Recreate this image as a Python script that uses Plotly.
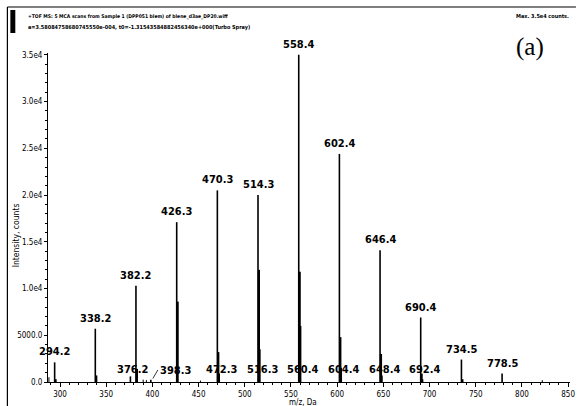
import plotly.graph_objects as go

# Principal ion series (m/z, counts)
peak_mz = [294.2, 338.2, 382.2, 426.3, 470.3, 514.3, 558.4, 602.4, 646.4, 690.4, 734.5, 778.5]
peak_int = [2100, 5700, 10300, 17100, 20500, 20000, 35000, 24400, 14100, 6900, 2400, 900]

# First isotope peaks sitting next to the principal ions
iso_mz = [295.2, 339.2, 383.2, 427.3, 471.3, 515.3, 559.4, 603.4, 647.4, 691.4, 735.5]
iso_int = [300, 700, 1400, 8600, 3200, 12000, 11800, 4800, 3000, 900, 300]

# Minor labelled peaks
minor_mz = [376.2, 398.3, 472.3, 516.3, 560.4, 604.4, 648.4, 692.4]
minor_int = [600, 250, 900, 3500, 6000, 1500, 700, 300]

# Small background signals
noise_mz = [288.0, 390.0, 393.5, 452.0, 822.0]
noise_int = [500, 250, 200, 150, 200]

x_ticks = [300, 350, 400, 450, 500, 550, 600, 650, 700, 750, 800, 850]
y_ticks = [0, 5000, 10000, 15000, 20000, 25000, 30000, 35000]
y_tick_text = ["0.0", "5000.0", "1.0e4", "1.5e4", "2.0e4", "2.5e4", "3.0e4", "3.5e4"]

NARROW = "DejaVu Sans Condensed, Liberation Sans, sans-serif"

W, H = 581, 406
L, R, T, B = 48, 6, 53, 24
PW, PH = W - L - R, H - T - B


def px(x):
    return (x - L) / PW


def py(y):
    return (H - B - y) / PH


def sticks(xs, ys):
    sx, sy = [], []
    for x, y in zip(xs, ys):
        sx += [x, x, None]
        sy += [0, y, None]
    return sx, sy


fig = go.Figure()

for xs, ys, w in [(noise_mz, noise_int, 1.0), (minor_mz, minor_int, 1.6),
                  (iso_mz, iso_int, 2.2), (peak_mz, peak_int, 1.6)]:
    sx, sy = sticks(xs, ys)
    fig.add_trace(go.Scatter(x=sx, y=sy, mode="lines",
                             line=dict(color="black", width=w),
                             hoverinfo="skip", showlegend=False))

label_font = dict(family=NARROW, size=11, color="black")

for x, y in zip(peak_mz, peak_int):
    fig.add_annotation(x=x, y=y, text=f"<b>{x:.1f}</b>", showarrow=False,
                       yanchor="bottom", yshift=2, font=label_font)

for x in minor_mz:
    if x == 398.3:
        fig.add_annotation(x=x, y=0, text=f"<b>{x:.1f}</b>", showarrow=True,
                           arrowhead=0, arrowwidth=0.8, arrowcolor="black",
                           ax=7, ay=-12, xanchor="left", font=label_font,
                           standoff=4)
    else:
        fig.add_annotation(x=x + 2.5, y=0, text=f"<b>{x:.1f}</b>", showarrow=False,
                           yanchor="middle", yshift=13, font=label_font)

fig.add_annotation(xref="paper", yref="paper", x=px(26), y=py(16),
                   text="<b>+TOF MS: 5 MCA scans from Sample 1 (DPP051 blem) of blene_d3ae_DP20.wiff</b>",
                   showarrow=False, xanchor="left", yanchor="middle",
                   font=dict(family=NARROW, size=5, color="black"))
fig.add_annotation(xref="paper", yref="paper", x=px(26), y=py(28),
                   text="<b>a=3.58084758680745550e-004, t0=-1.31543584882456340e+000(Turbo Spray)</b>",
                   showarrow=False, xanchor="left", yanchor="middle",
                   font=dict(family=NARROW, size=5.5, color="black"))
fig.add_annotation(xref="paper", yref="paper", x=px(576), y=py(16),
                   text="<b>Max. 3.5e4 counts.</b>",
                   showarrow=False, xanchor="right", yanchor="middle",
                   font=dict(family=NARROW, size=5.5, color="black"))
fig.add_annotation(xref="paper", yref="paper", x=px(535), y=py(47),
                   text="(a)", showarrow=False, xanchor="center", yanchor="middle",
                   font=dict(family="Liberation Serif", size=25, color="black"))
fig.add_annotation(xref="paper", yref="paper", x=px(16), y=py(235),
                   text="Intensity, counts", textangle=-90, showarrow=False,
                   xanchor="center", yanchor="middle",
                   font=dict(family=NARROW, size=8.5, color="black"))
fig.add_annotation(xref="paper", yref="paper", x=px(305), y=py(402.5),
                   text="m/z, Da", showarrow=False, xanchor="center", yanchor="middle",
                   font=dict(family=NARROW, size=8, color="black"))

# Frame and marker block
fig.add_shape(type="line", xref="paper", yref="paper",
              x0=px(7), x1=px(7), y0=py(7), y1=py(406),
              line=dict(color="black", width=1.2))
fig.add_shape(type="line", xref="paper", yref="paper",
              x0=px(7), x1=px(581), y0=py(7), y1=py(7),
              line=dict(color="black", width=1.2))
fig.add_shape(type="rect", xref="paper", yref="paper",
              x0=px(10), x1=px(15), y0=py(33), y1=py(10),
              line=dict(width=0), fillcolor="black")

tick_font = dict(family=NARROW, size=8, color="black")
fig.update_xaxes(range=[287, 852], tickmode="array", tickvals=x_ticks,
                 showgrid=False, zeroline=False, showline=True, linecolor="black",
                 linewidth=1, ticks="outside", ticklen=4, tickcolor="black",
                 tickfont=tick_font,
                 minor=dict(dtick=10, ticks="outside", ticklen=2, tickcolor="black"))
fig.update_yaxes(range=[0, 35200], tickmode="array", tickvals=y_ticks,
                 ticktext=y_tick_text, showgrid=False, zeroline=False,
                 showline=True, linecolor="black", linewidth=1,
                 ticks="outside", ticklen=3, tickcolor="black", tickfont=tick_font,
                 minor=dict(dtick=1000, ticks="outside", ticklen=2, tickcolor="black"))

fig.update_layout(width=W, height=H, margin=dict(l=L, r=R, t=T, b=B),
                  plot_bgcolor="white", paper_bgcolor="white", showlegend=False)

fig.write_html("out.html")
